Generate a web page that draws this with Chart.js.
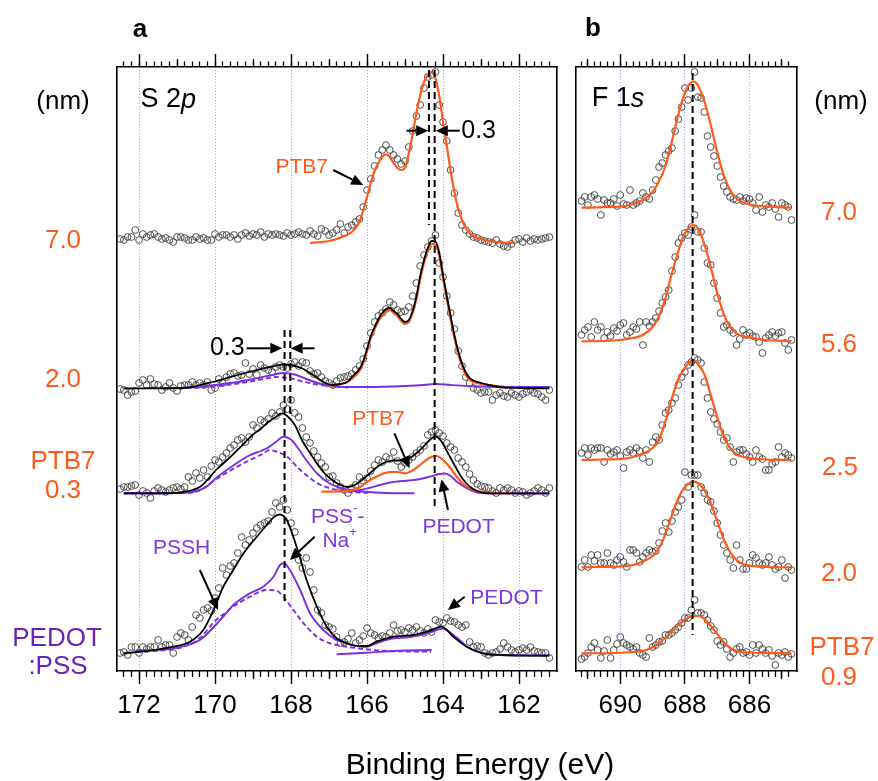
<!DOCTYPE html>
<html>
<head>
<meta charset="utf-8">
<script src="https://cdn.jsdelivr.net/npm/chart.js@4.4.1/dist/chart.umd.min.js"></script>
<style>
  html, body { margin: 0; padding: 0; background: #fff; }
  #wrap { position: relative; width: 878px; height: 781px; overflow: hidden; background: #fff; }
  #wrap canvas { position: absolute; left: 0; top: 0; }
  .lbl { position: absolute; transform: translate(-50%, -50%); line-height: 1; white-space: nowrap;
         font-family: 'Liberation Sans', Arial, sans-serif; font-size: 26px; color: #000; }
  .or { color: #ff5a1a; }
  .pu { color: #6a22b8; }
  .bold { font-weight: bold; }
</style>
</head>
<body>
<div id="wrap">
  <canvas id="panelA" width="878" height="781"></canvas>
  <canvas id="panelB" width="878" height="781"></canvas>

  <div class="lbl bold" style="left:140px;top:28px">a</div>
  <div class="lbl bold" style="left:593px;top:27px">b</div>

  <div class="lbl" style="left:63px;top:100px">(nm)</div>
  <div class="lbl or" style="left:63px;top:239px">7.0</div>
  <div class="lbl or" style="left:63px;top:378px">2.0</div>
  <div class="lbl or" style="left:63px;top:460px">PTB7</div>
  <div class="lbl or" style="left:63px;top:489px">0.3</div>
  <div class="lbl pu" style="left:57px;top:637px">PEDOT</div>
  <div class="lbl pu" style="left:58px;top:665px">:PSS</div>

  <div class="lbl" style="left:841px;top:100px">(nm)</div>
  <div class="lbl or" style="left:839px;top:211px">7.0</div>
  <div class="lbl or" style="left:839px;top:343px">5.6</div>
  <div class="lbl or" style="left:840px;top:466px">2.5</div>
  <div class="lbl or" style="left:839px;top:572px">2.0</div>
  <div class="lbl or" style="left:842px;top:646px">PTB7</div>
  <div class="lbl or" style="left:839px;top:676px">0.9</div>

  <div class="lbl" style="left:480px;top:764px;font-size:30px">Binding Energy (eV)</div>
</div>

<script>
const FONT = "'Liberation Sans', Arial, sans-serif";
const ORANGE = '#ff5a1a';
const PURPLE = '#7b2ee3';
const PURPLE_TEXT = '#7d35e6';

// ---------- S 2p : binding-energy grid (eV) and measured intensities (a.u., offset per film) ----------
const energyS2p = [
  172.5,172.4,172.3,172.2,172.1,172.0,171.9,171.8,171.7,171.6,
  171.5,171.4,171.3,171.2,171.1,171.0,170.9,170.8,170.7,170.6,
  170.5,170.4,170.3,170.2,170.1,170.0,169.9,169.8,169.7,169.6,
  169.5,169.4,169.3,169.2,169.1,169.0,168.9,168.8,168.7,168.6,
  168.5,168.4,168.3,168.2,168.1,168.0,167.9,167.8,167.7,167.6,
  167.5,167.4,167.3,167.2,167.1,167.0,166.9,166.8,166.7,166.6,
  166.5,166.4,166.3,166.2,166.1,166.0,165.9,165.8,165.7,165.6,
  165.5,165.4,165.3,165.2,165.1,165.0,164.9,164.8,164.7,164.6,
  164.5,164.4,164.3,164.2,164.1,164.0,163.9,163.8,163.7,163.6,
  163.5,163.4,163.3,163.2,163.1,163.0,162.9,162.8,162.7,162.6,
  162.5,162.4,162.3,162.2,162.1,162.0,161.9,161.8,161.7,161.6,
  161.5,161.4,161.3,161.2
];
const s2pPTB7_70 = [
  432,431,434,434,441,431,437,434,436,437,
  434,432,433,431,429,434,434,433,431,431,
  434,432,433,431,431,437,434,436,436,434,
  436,432,436,438,435,437,436,439,434,437,
  436,437,436,435,438,436,437,439,437,436,
  440,437,435,442,440,436,438,441,447,438,
  444,446,449,452,464,481,492,505,516,521,
  526,521,516,512,507,510,524,540,555,566,
  583,594,596,599,566,549,530,501,478,458,
  446,441,437,434,433,431,430,429,428,431,
  427,425,424,427,431,432,429,433,430,432,
  431,432,433,434
];
const s2pPTB7_20 = [
  282,281,276,279,280,288,291,286,292,287,
  286,281,284,288,283,280,285,286,286,289,
  286,288,286,289,281,283,292,288,294,297,
  298,295,296,308,297,302,296,306,303,301,
  299,304,306,304,303,307,309,305,309,308,
  300,297,298,294,290,288,286,290,293,294,
  295,297,301,305,312,325,338,349,355,358,
  362,369,366,361,359,360,364,375,388,405,
  416,424,430,436,408,394,375,358,342,320,
  305,294,288,283,281,278,279,279,271,276,
  278,275,274,278,276,274,277,279,281,278,
  277,274,271,281
];
const s2pPTB7_03 = [
  182,184,184,185,186,176,180,178,173,180,
  183,181,179,181,183,184,182,184,194,190,
  198,193,201,194,205,211,209,214,218,223,
  226,231,233,229,234,246,243,251,249,252,
  258,255,259,266,262,271,258,254,243,234,
  228,220,214,208,204,194,195,188,184,181,
  178,183,186,194,190,193,200,206,211,209,
  214,212,219,210,204,208,211,214,218,221,
  225,236,239,241,238,235,228,224,221,213,
  209,204,197,191,187,185,184,183,180,178,
  183,181,183,181,178,180,179,176,178,180,
  183,181,178,183
];
const s2pPEDOTPSS = [
  18,19,16,24,24,18,24,22,24,24,
  31,24,26,26,18,34,38,36,31,44,
  56,53,61,63,60,73,83,103,96,105,
  108,118,134,126,131,138,143,146,148,150,
  159,168,164,171,161,148,139,111,103,113,
  99,81,61,58,46,44,42,34,28,29,
  32,38,28,31,35,43,38,36,33,35,
  34,38,46,40,41,39,43,41,44,40,
  38,42,39,51,49,48,53,50,49,46,
  44,46,29,24,25,24,18,16,18,19,
  22,28,24,21,19,21,23,21,24,20,
  19,18,18,13
];

// ---------- S 2p fitted components, [energy, intensity] ----------
const fitPTB7_70 = [[167.5,428],[167.2,429],[167.0,430],[166.8,432],[166.6,435],[166.4,439],[166.2,449],[166.1,461],[166.0,474],[165.9,488],[165.8,500],[165.7,508],[165.6,514],[165.5,516.7],[165.4,514],[165.3,508],[165.2,503],[165.1,501],[165.0,503],[164.9,518],[164.8,537],[164.7,558],[164.6,576],[164.5,589],[164.4,596],[164.3,598.7],[164.2,593],[164.1,575],[164.0,549],[163.9,525],[163.8,500],[163.7,479],[163.6,462],[163.5,451],[163.4,443],[163.3,438],[163.2,435],[163.0,432],[162.8,430],[162.6,429],[162.4,428.5],[162.1,428]];

const fitSum_20 = [[172.4,282.7],[171.5,282.7],[171.0,282.9],[170.6,284],[170.4,286],[170.0,289.5],[169.5,295],[169.0,300],[168.5,304.5],[168.2,306.5],[167.9,305],[167.7,302.5],[167.5,298],[167.3,292.7],[167.1,288],[166.9,286],[166.7,287],[166.5,289.5],[166.4,294],[166.2,302],[166.1,310],[166.0,322],[165.9,335],[165.8,344],[165.7,352],[165.6,358],[165.5,362],[165.4,363],[165.3,360],[165.2,357],[165.1,352],[165.0,349],[164.9,351],[164.8,360],[164.7,374.5],[164.6,395],[164.5,411],[164.4,423],[164.3,430],[164.2,429.5],[164.1,418.5],[164.0,396],[163.9,375],[163.8,355],[163.7,336],[163.6,320],[163.5,307.5],[163.4,298.5],[163.3,293],[163.2,290.5],[163.0,288],[162.8,286],[162.6,284.5],[162.4,283.5],[162.0,283],[161.2,282.7]];
const fitPTB7_20 = [[167.0,285],[166.8,286],[166.6,288],[166.4,292],[166.2,300],[166.1,308],[166.0,320],[165.9,333],[165.8,342],[165.7,350],[165.6,356],[165.5,360],[165.4,361],[165.3,358],[165.2,355],[165.1,350],[165.0,347],[164.9,349],[164.8,358],[164.7,372],[164.6,392],[164.5,408],[164.4,420],[164.3,427],[164.2,426],[164.1,415],[164.0,393],[163.9,372],[163.8,352],[163.7,333],[163.6,317],[163.5,305],[163.4,296],[163.3,291],[163.2,289],[163.0,287],[162.8,286],[162.6,285],[162.4,284.5]];
const fitPSS_20 = [[171.8,283],[171.0,283],[170.5,284],[170.0,286],[169.5,288.5],[169.0,292],[168.5,296],[168.2,298],[167.9,296.5],[167.6,292],[167.3,288],[167.0,285],[166.6,284],[166.0,284],[165.0,285],[164.5,286],[164.2,287],[163.8,286],[163.0,284.5],[162.0,284],[161.2,284]];
const fitPSSH_20 = [[171.8,283],[171.0,283],[170.0,284.5],[169.5,287],[169.0,290],[168.6,293],[168.4,294],[168.2,293.5],[168.0,292.5],[167.7,289.5],[167.4,287],[167.0,285],[166.5,283.5]];

const fitSum_03 = [[172.4,177.7],[171.0,178],[170.8,179.3],[170.6,181],[170.4,184],[170.2,191],[170.0,200],[169.8,207],[169.5,217.7],[169.2,229],[169.0,236.5],[168.8,242],[168.6,249],[168.4,254],[168.25,257.7],[168.1,255],[167.9,246],[167.7,230],[167.5,218],[167.3,206.5],[167.1,197],[166.9,190.5],[166.7,186],[166.5,184],[166.3,186.5],[166.1,192],[165.9,198.5],[165.7,205],[165.5,209],[165.3,210.5],[165.1,210.5],[164.9,212.5],[164.7,217.7],[164.5,225],[164.35,231],[164.2,234.5],[164.05,230],[163.9,220],[163.7,206],[163.5,193],[163.3,184.5],[163.1,180],[162.9,178],[162.6,177.7],[161.2,177.7]];
const fitPTB7_03 = [[167.2,179.3],[166.8,179.5],[166.45,180.3],[166.2,183.5],[166.0,189],[165.8,193.5],[165.6,197],[165.4,199],[165.2,199],[165.0,197.7],[164.8,200.5],[164.6,206],[164.44,211],[164.3,214.3],[164.17,215],[164.0,211],[163.85,205],[163.64,194.3],[163.45,186.5],[163.29,182.7],[163.1,180],[162.94,179.3],[162.6,178],[162.24,177.7]];
const fitPEDOT_03 = [[166.5,179.3],[166.1,181.5],[165.9,183.5],[165.66,186],[165.4,188.5],[165.2,189.5],[164.9,190.5],[164.6,192],[164.35,194.3],[164.1,197],[163.95,197.5],[163.8,195],[163.64,189.5],[163.45,184.5],[163.29,181],[163.1,178.5],[162.9,177.7],[161.2,177.5]];
const fitPSS_03 = [[172.4,177.7],[170.8,178.3],[170.4,181],[170.2,185],[170.0,192],[169.8,198],[169.5,206],[169.1,215.5],[168.8,220],[168.6,223.5],[168.4,229],[168.2,234.3],[168.0,231.5],[167.8,222],[167.6,211],[167.3,197],[167.0,188],[166.7,183],[166.5,181],[166.0,179],[165.5,178],[164.75,177.7]];
const fitPSSH_03 = [[172.4,177.7],[170.8,178],[170.4,180.5],[170.0,191],[169.5,202.7],[169.1,210.5],[168.8,216],[168.55,221],[168.4,219.5],[168.1,214.3],[167.8,202.5],[167.5,193],[167.3,187.7],[167.0,183],[166.6,180],[166.2,178.5],[166.0,178]];

const fitSum_00 = [[172.41,17.7],[171.7,20.3],[171.1,24.3],[170.66,29.3],[170.31,41],[170.04,61],[169.78,84.3],[169.52,101],[169.25,117.7],[168.9,134.3],[168.64,146],[168.45,154],[168.3,156.5],[168.2,155],[168.11,151],[167.94,134.3],[167.76,112.7],[167.59,91],[167.32,64.3],[167.06,44.3],[166.8,32.7],[166.53,27.7],[166.2,25],[166.0,25],[165.75,29.3],[165.3,34.3],[164.78,36],[164.34,40.3],[164.04,44.3],[163.9,41],[163.73,34.3],[163.55,29],[163.38,24.3],[162.94,17.7],[162.5,16],[161.2,15.3]];
const fitPSS_00 = [[172.06,20.3],[171.1,22.7],[170.4,31],[169.96,47],[169.7,58],[169.52,66],[169.08,77.7],[168.73,84.3],[168.46,94.3],[168.29,106],[168.18,107.7],[168.03,101],[167.76,81],[167.5,57.7],[167.15,41],[166.8,31],[166.53,27.7],[166.2,24.5],[166.0,24.3],[165.84,26.5],[165.4,32],[164.87,34],[164.34,38.5],[164.0,42.5],[163.85,39.5],[163.64,33.5],[163.3,22.7],[162.86,17],[162.07,15.7],[161.2,15.5]];
const fitPEDOTbase_00 = [[166.8,16.7],[166.0,18.3],[165.2,20.3],[164.3,21]];
const fitPSSH_00 = [[172.06,19],[170.83,24.3],[170.4,33],[170.0,50],[169.7,59],[169.52,64.3],[169.08,74.3],[168.64,81],[168.38,80.3],[168.2,74.3],[167.94,61],[167.67,47.7],[167.32,34.3],[166.97,27.7],[166.53,24.3],[165.6,20.3],[164.32,19.3]];

// peak-position guides in S 2p
const guideS2p = [
  [[164.37,601],[164.37,446]],
  [[164.22,601],[164.22,161]],
  [[168.17,341],[168.17,68]],
  [[168.02,341],[168.02,256]]
];

// ---------- F 1s ----------
const energyF1s = [
  691.2,691.1,691.0,690.9,690.8,690.7,690.6,690.5,690.4,690.3,
  690.2,690.1,690.0,689.9,689.8,689.7,689.6,689.5,689.4,689.3,
  689.2,689.1,689.0,688.9,688.8,688.7,688.6,688.5,688.4,688.3,
  688.2,688.1,688.0,687.9,687.8,687.7,687.6,687.5,687.4,687.3,
  687.2,687.1,687.0,686.9,686.8,686.7,686.6,686.5,686.4,686.3,
  686.2,686.1,686.0,685.9,685.8,685.7,685.6,685.5,685.4,685.3,
  685.2,685.1,685.0,684.9,684.8,684.7
];
const f1s_70 = [
  470,474,466,474,476,472,456,471,468,468,
  472,465,476,467,466,481,466,468,470,478,
  474,472,481,491,504,508,516,520,523,540,
  552,564,583,571,583,599,574,573,559,535,
  524,515,505,494,485,479,474,472,471,474,
  470,473,472,468,461,474,459,466,464,468,
  462,454,468,466,464,451
];
const f1s_56 = [
  336,341,344,334,349,341,344,333,339,335,
  343,340,346,348,336,339,344,342,349,326,
  349,345,349,353,360,368,374,381,400,414,
  428,433,438,436,444,456,439,439,423,408,
  406,388,373,358,344,346,341,338,326,332,
  341,336,338,335,334,329,318,333,336,339,
  335,338,339,328,321,331
];
const f1s_25 = [
  218,223,216,223,221,223,223,209,221,217,
  219,221,215,203,219,221,218,223,220,213,
  221,209,229,234,231,246,258,261,268,273,
  286,294,299,306,309,313,311,308,289,273,
  259,252,247,239,231,233,224,209,219,221,
  221,217,214,209,221,214,212,201,201,207,
  209,224,214,218,216,213
];
const f1s_20 = [
  104,111,104,116,110,116,108,108,118,108,
  106,111,114,109,104,121,121,118,109,114,
  118,121,119,120,128,140,148,139,150,159,
  164,171,199,184,196,196,196,184,178,171,
  169,160,148,136,126,118,111,103,126,111,
  102,102,108,116,113,108,106,108,114,106,
  102,104,111,93,104,101
];
const f1s_09 = [
  12,14,18,24,28,21,13,20,31,13,
  21,27,34,28,26,24,22,24,18,16,
  14,33,24,26,29,30,36,36,38,41,
  44,48,53,53,61,71,58,58,56,51,
  45,41,30,26,29,22,14,18,22,24,
  18,19,16,26,18,26,22,18,21,15,
  6,18,16,19,14,17
];
const fitF_70 = [[691.2,463.3],[690.5,463.8],[690.0,464.5],[689.6,467],[689.3,471],[689.0,479],[688.8,490],[688.6,505],[688.4,530],[688.2,557],[688.0,578],[687.9,585],[687.75,589.5],[687.6,586],[687.4,570],[687.2,546],[687.0,519],[686.8,496],[686.6,481],[686.4,472.5],[686.2,468.5],[685.9,466],[685.5,464.5],[684.7,463.3]];
const fitF_56 = [[691.2,329.7],[690.5,330],[690.0,331],[689.6,333],[689.3,336],[689.0,344],[688.8,355],[688.6,373],[688.4,398],[688.2,420],[688.0,438],[687.85,444],[687.73,446],[687.6,443],[687.4,427],[687.2,404],[687.0,378],[686.8,357],[686.6,344],[686.4,337.7],[686.2,335],[685.9,333],[685.5,331],[684.7,330]];
const fitF_25 = [[691.2,211],[690.5,211.5],[690.0,212],[689.6,214],[689.3,217.5],[689.0,223],[688.8,231],[688.6,250],[688.4,273],[688.2,292],[688.0,303],[687.85,309],[687.73,311],[687.6,307],[687.4,297],[687.2,276],[687.0,254],[686.8,235],[686.6,223],[686.4,216.5],[686.2,214],[685.9,212.5],[685.5,211.5],[684.7,211]];
const fitF_20 = [[691.2,103.7],[690.5,104],[690.0,104.5],[689.6,106],[689.3,109.5],[689.0,115],[688.8,123],[688.6,137],[688.4,156],[688.2,173],[688.0,184],[687.85,188],[687.74,189.3],[687.6,188],[687.4,181],[687.2,168],[687.0,150],[686.8,132],[686.6,119],[686.4,111],[686.2,107],[685.9,105],[685.5,104],[684.7,103.7]];
const fitF_09 = [[691.2,17.7],[690.2,18],[689.6,19],[689.2,21],[688.9,25.5],[688.6,33.5],[688.3,43],[688.0,51.5],[687.8,54.5],[687.64,55],[687.45,53.5],[687.2,45],[687.0,37],[686.8,29],[686.6,23],[686.4,20],[686.1,18.5],[684.7,17.7]];
const guideF1s = [[[687.76,598],[687.76,36]]];

// ---------- axis ticks ----------
const majorS2p = [172, 170, 168, 166, 164, 162];
const midS2p = [171, 169, 167, 165, 163];
const majorF1s = [690, 688, 686];
const midF1s = [691, 689, 687, 685];
const MINOR_STEP = 0.2;

// ---------- labels and arrows inside the frames ([energy, intensity]) ----------
const notesS2p = [
  { segs: [{ t: 'S 2' }, { t: 'p', it: true }], at: [171.96, 571], size: 27, color: '#000', align: 'left' },
  { segs: [{ t: 'PTB7' }], at: [167.72, 504], size: 21, color: ORANGE, align: 'center' },
  { segs: [{ t: '0.3' }], at: [163.52, 540], size: 25, color: '#000', align: 'left' },
  { segs: [{ t: '0.3' }], at: [169.22, 323], size: 25, color: '#000', align: 'right' },
  { segs: [{ t: 'PTB7' }], at: [165.7, 252], size: 21, color: ORANGE, align: 'center' },
  { segs: [{ t: 'PEDOT' }], at: [163.59, 144], size: 21, color: PURPLE_TEXT, align: 'center' },
  { segs: [{ t: 'PSS' }, { t: '-', sup: true }, { t: '-' }], at: [166.77, 154], size: 21, color: PURPLE_TEXT, align: 'center' },
  { segs: [{ t: 'Na' }, { t: '+', sup: true }], at: [166.72, 130], size: 21, color: PURPLE_TEXT, align: 'center' },
  { segs: [{ t: 'PSSH' }], at: [170.88, 123], size: 21, color: PURPLE_TEXT, align: 'center' },
  { segs: [{ t: 'PEDOT' }], at: [162.33, 73], size: 21, color: PURPLE_TEXT, align: 'center' }
];
const arrowsS2p = [
  { from: [166.89, 501], to: [166.1, 486] },
  { from: [164.96, 540.3], to: [164.39, 540.3] },
  { from: [163.56, 540.3], to: [164.19, 540.3] },
  { from: [169.17, 322.7], to: [168.23, 322.7] },
  { from: [167.38, 322.7], to: [168.01, 322.7] },
  { from: [165.28, 237.7], to: [164.88, 202.7] },
  { from: [163.87, 161], to: [164.04, 191.7] },
  { from: [167.38, 134.3], to: [168.03, 111] },
  { from: [170.4, 101], to: [169.92, 61] },
  { from: [163.43, 74.3], to: [163.87, 61] }
];
const notesF1s = [
  { segs: [{ t: 'F 1' }, { t: 's', it: true }], at: [690.88, 572], size: 27, color: '#000', align: 'left' }
];
const arrowsF1s = [];

// ---------- helpers ----------
const toPoints = (xs, ys) => xs.map((x, i) => ({ x, y: ys[i] }));
const fromPairs = list => list.map(([x, y]) => ({ x, y }));

function markers(xs, ys) {
  return {
    data: toPoints(xs, ys), showLine: false, pointStyle: 'circle', pointRadius: 3.4,
    pointBorderWidth: 0.9, pointBorderColor: '#3c3c3c', pointBackgroundColor: 'rgba(0,0,0,0)'
  };
}
function curve(list, color, width, dash) {
  return {
    data: fromPairs(list), borderColor: color, borderWidth: width, borderDash: dash || [],
    pointRadius: 0, fill: false, cubicInterpolationMode: 'monotone', borderCapStyle: 'butt'
  };
}
function guide(list) {
  return { data: fromPairs(list), borderColor: '#000', borderWidth: 2, borderDash: [7, 4], pointRadius: 0, fill: false, tension: 0 };
}
function minorTicks(from, to) {
  const out = [];
  for (let v = from; v >= to - 1e-9; v -= MINOR_STEP) out.push(Math.round(v * 10) / 10);
  return out;
}

function drawArrow(ctx, x1, y1, x2, y2) {
  const ang = Math.atan2(y2 - y1, x2 - x1), head = 12, half = 5.5;
  const bx = x2 - head * Math.cos(ang), by = y2 - head * Math.sin(ang);
  ctx.strokeStyle = '#000'; ctx.fillStyle = '#000'; ctx.lineWidth = 2;
  ctx.setLineDash([]);
  ctx.beginPath(); ctx.moveTo(x1, y1); ctx.lineTo(bx, by); ctx.stroke();
  ctx.beginPath(); ctx.moveTo(x2, y2);
  ctx.lineTo(bx + half * Math.sin(ang), by - half * Math.cos(ang));
  ctx.lineTo(bx - half * Math.sin(ang), by + half * Math.cos(ang));
  ctx.closePath(); ctx.fill();
}
function drawNote(ctx, n, x, y) {
  const fontFor = s => (s.it ? 'italic ' : '') + (s.sup ? Math.round(n.size * 0.62) : n.size) + 'px ' + FONT;
  const widths = n.segs.map(s => { ctx.font = fontFor(s); return ctx.measureText(s.t).width; });
  const total = widths.reduce((a, b) => a + b, 0);
  let cx = n.align === 'left' ? x : n.align === 'right' ? x - total : x - total / 2;
  ctx.fillStyle = n.color; ctx.textBaseline = 'middle'; ctx.textAlign = 'left';
  n.segs.forEach((s, i) => {
    ctx.font = fontFor(s);
    ctx.fillText(s.t, cx, s.sup ? y - n.size * 0.42 : y);
    cx += widths[i];
  });
}
function annotations(notes, arrows) {
  return {
    id: 'annotations',
    afterDatasetsDraw(chart) {
      const ctx = chart.ctx, sx = chart.scales.x, sy = chart.scales.y;
      const X = e => sx.getPixelForValue(e), Y = v => sy.getPixelForValue(v);
      ctx.save();
      arrows.forEach(a => drawArrow(ctx, X(a.from[0]), Y(a.from[1]), X(a.to[0]), Y(a.to[1])));
      notes.forEach(n => drawNote(ctx, n, X(n.at[0]), Y(n.at[1])));
      ctx.restore();
    }
  };
}

// frame + tick scales: long ticks with labels/grid, medium ticks, short ticks, top and bottom
function buildScales(min, max, major, mid, minor) {
  const setTicks = list => scale => { scale.ticks = list.map(v => ({ value: v })); };
  const base = { type: 'linear', axis: 'x', min, max, reverse: true };
  const tickAxis = (position, list, len, weight) => ({
    ...base, position, weight,
    afterBuildTicks: setTicks(list),
    afterFit: s => { s.height = 0; },
    ticks: { display: false },
    grid: { display: true, drawOnChartArea: false, drawTicks: true, tickLength: len, tickColor: '#000', tickWidth: 1.3 },
    border: { display: false }
  });
  const frameY = position => ({
    type: 'linear', axis: 'y', position, min: 0, max: 604,
    afterFit: s => { s.width = 0; },
    ticks: { display: false },
    grid: { display: false, drawOnChartArea: false, drawTicks: false },
    border: { display: true, color: '#000', width: 1.6 }
  });
  return {
    x: {
      ...base, position: 'bottom', weight: 5,
      afterBuildTicks: setTicks(major),
      afterFit: s => { s.height = 110; },
      ticks: { display: true, autoSkip: false, maxRotation: 0, minRotation: 0, padding: 6, color: '#000',
               font: { family: FONT, size: 26 }, callback: v => String(v) },
      grid: { display: true, drawOnChartArea: true, color: 'rgba(100,100,255,0.6)', lineWidth: 1,
              drawTicks: true, tickLength: 13, tickColor: '#000', tickWidth: 1.4 },
      border: { display: true, color: '#000', width: 1.6, dash: [1, 2] }
    },
    xMid: tickAxis('bottom', mid, 8, 0),
    xMinor: tickAxis('bottom', minor, 6, 0),
    xTop: {
      ...base, position: 'top', weight: 5,
      afterBuildTicks: setTicks(major),
      afterFit: s => { s.height = 67; },
      ticks: { display: false },
      grid: { display: true, drawOnChartArea: false, drawTicks: true, tickLength: 13, tickColor: '#000', tickWidth: 1.4 },
      border: { display: true, color: '#000', width: 1.6 }
    },
    xTopMid: tickAxis('top', mid, 8, 0),
    xTopMinor: tickAxis('top', minor, 5.5, 0),
    y: frameY('left'),
    yRight: frameY('right')
  };
}

function makeChart(id, padLeft, padRight, datasets, scales, plugin) {
  return new Chart(document.getElementById(id), {
    type: 'line',
    data: { datasets },
    options: {
      responsive: false, animation: false, devicePixelRatio: 1,
      layout: { padding: { left: padLeft, right: padRight, top: 0, bottom: 0 } },
      plugins: { legend: { display: false }, tooltip: { enabled: false } },
      events: [],
      scales
    },
    plugins: [plugin]
  });
}

// ---------- panel a : S 2p ----------
const datasetsS2p = [
  ...guideS2p.map(guide),
  curve(fitSum_20, '#000', 1.8),
  curve(fitSum_03, '#000', 1.8),
  curve(fitSum_00, '#000', 1.8),
  curve(fitPTB7_70, ORANGE, 2.2),
  curve(fitPTB7_20, ORANGE, 2.2),
  curve(fitPTB7_03, ORANGE, 2.2),
  curve(fitPSS_20, PURPLE, 1.9),
  curve(fitPSSH_20, PURPLE, 1.9, [5, 3]),
  curve(fitPEDOT_03, PURPLE, 1.9),
  curve(fitPSS_03, PURPLE, 1.9),
  curve(fitPSSH_03, PURPLE, 1.9, [5, 3]),
  curve(fitPSS_00, PURPLE, 1.9),
  curve(fitPEDOTbase_00, PURPLE, 1.9),
  curve(fitPSSH_00, PURPLE, 1.9, [5, 3]),
  markers(energyS2p, s2pPTB7_70),
  markers(energyS2p, s2pPTB7_20),
  markers(energyS2p, s2pPTB7_03),
  markers(energyS2p, s2pPEDOTPSS)
];
makeChart('panelA', 117, 878 - 557, datasetsS2p,
  buildScales(161.0, 172.58, majorS2p, midS2p, minorTicks(172.4, 161.2)),
  annotations(notesS2p, arrowsS2p));

// ---------- panel b : F 1s ----------
const datasetsF1s = [
  ...guideF1s.map(guide),
  curve(fitF_70, ORANGE, 2.2),
  curve(fitF_56, ORANGE, 2.2),
  curve(fitF_25, ORANGE, 2.2),
  curve(fitF_20, ORANGE, 2.2),
  curve(fitF_09, ORANGE, 2.2),
  markers(energyF1s, f1s_70),
  markers(energyF1s, f1s_56),
  markers(energyF1s, f1s_25),
  markers(energyF1s, f1s_20),
  markers(energyF1s, f1s_09)
];
makeChart('panelB', 576, 878 - 797, datasetsF1s,
  buildScales(684.53, 691.37, majorF1s, midF1s, minorTicks(691.2, 684.8)),
  annotations(notesF1s, arrowsF1s));
</script>
</body>
</html>
